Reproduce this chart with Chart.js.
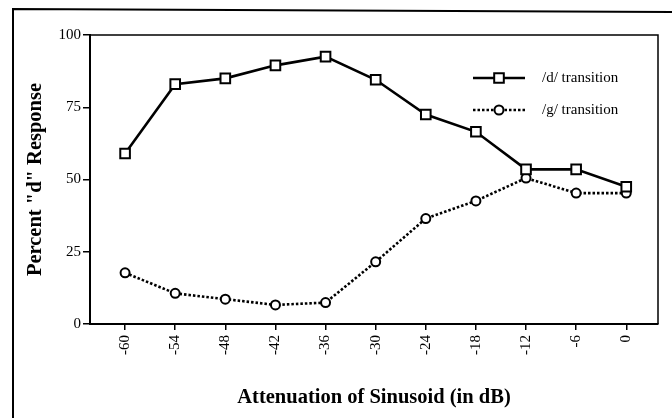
<!DOCTYPE html>
<html>
<head>
<meta charset="utf-8">
<script src="https://cdn.jsdelivr.net/npm/chart.js@4/dist/chart.umd.min.js"></script>
<style>
html,body{margin:0;padding:0;background:#fff;}
#wrap{width:672px;height:418px;position:relative;}
</style>
</head>
<body>
<div id="wrap"><canvas id="c" width="672" height="418"></canvas></div>
<script>
const attenuation = [-60, -54, -48, -42, -36, -30, -24, -18, -12, -6, 0];
const dTransition = [59, 83, 85, 89.5, 92.5, 84.5, 72.5, 66.5, 53.5, 53.5, 47.5];
const gTransition = [17.7, 10.6, 8.6, 6.6, 7.4, 21.5, 36.5, 42.6, 50.5, 45.3, 45.3];
const yTickValues = [0, 25, 50, 75, 100];
const seriesNames = ['/d/ transition', '/g/ transition'];
const xTitle = 'Attenuation of Sinusoid (in dB)';
const yTitle = 'Percent "d" Response';

const serif = "'Liberation Serif', 'Times New Roman', serif";

const frame = {
  id: 'frame',
  beforeDraw(chart) {
    const ctx = chart.ctx;
    ctx.save();
    ctx.fillStyle = '#fff';
    ctx.fillRect(0, 0, chart.width, chart.height);
    ctx.strokeStyle = '#000';
    ctx.lineWidth = 2;
    ctx.beginPath();
    ctx.moveTo(13, 418);
    ctx.lineTo(13, 9);
    ctx.lineTo(672, 12);
    ctx.stroke();
    ctx.restore();
  },
  afterDatasetsDraw(chart) {
    const a = chart.chartArea, ctx = chart.ctx;
    ctx.save();
    ctx.strokeStyle = '#000';
    ctx.lineWidth = 1.5;
    ctx.beginPath();
    ctx.moveTo(a.left, a.top);
    ctx.lineTo(a.right, a.top);
    ctx.lineTo(a.right, a.bottom);
    ctx.stroke();
    // legend
    const items = [
      {y: 78, ds: chart.data.datasets[0]},
      {y: 110, ds: chart.data.datasets[1]}
    ];
    items.forEach(it => {
      const ds = it.ds;
      ctx.strokeStyle = '#000';
      ctx.lineWidth = ds.borderWidth;
      ctx.setLineDash(ds.borderDash || []);
      ctx.beginPath();
      ctx.moveTo(473, it.y);
      ctx.lineTo(525, it.y);
      ctx.stroke();
      ctx.setLineDash([]);
      ctx.fillStyle = '#fff';
      ctx.strokeStyle = '#000';
      ctx.lineWidth = ds.pointBorderWidth;
      ctx.beginPath();
      if (ds.pointStyle === 'rect') {
        const s = Math.SQRT1_2 * ds.pointRadius;
        ctx.rect(499 - s, it.y - s, 2 * s, 2 * s);
      } else {
        ctx.arc(499, it.y, ds.pointRadius, 0, Math.PI * 2);
      }
      ctx.fill();
      ctx.stroke();
      ctx.fillStyle = '#000';
      ctx.font = "15px " + serif;
      ctx.textBaseline = 'middle';
      ctx.textAlign = 'left';
      ctx.fillText(ds.label, 542, it.y);
    });
    ctx.restore();
  }
};

new Chart(document.getElementById('c'), {
  type: 'line',
  data: {
    datasets: [
      {
        label: seriesNames[0],
        data: attenuation.map((x, i) => ({x: x, y: dTransition[i]})),
        borderColor: '#000',
        borderWidth: 2.6,
        pointStyle: 'rect',
        pointRadius: 6.8,
        pointBorderWidth: 2,
        pointBackgroundColor: '#fff',
        pointBorderColor: '#000',
        tension: 0
      },
      {
        label: seriesNames[1],
        data: attenuation.map((x, i) => ({x: x, y: gTransition[i]})),
        borderColor: '#000',
        borderWidth: 2.6,
        borderDash: [2.5, 2],
        pointStyle: 'circle',
        pointRadius: 4.5,
        pointBorderWidth: 2,
        pointBackgroundColor: '#fff',
        pointBorderColor: '#000',
        tension: 0
      }
    ]
  },
  options: {
    responsive: false,
    animation: false,
    events: [],
    layout: {padding: {top: 35, right: 14, left: 0, bottom: 0}},
    plugins: {legend: {display: false}, tooltip: {enabled: false}},
    scales: {
      x: {
        type: 'linear',
        min: -64.2,
        max: 3.8,
        afterBuildTicks(scale) { scale.ticks = attenuation.map(v => ({value: v})); },
        afterFit(scale) { scale.height = 94; },
        ticks: {
          minRotation: 90, maxRotation: 90,
          color: '#000', font: {family: serif, size: 15},
          padding: 5,
          callback: v => String(v)
        },
        grid: {drawOnChartArea: false, drawTicks: true, tickLength: 6, color: '#000', lineWidth: 1.5},
        border: {display: true, color: '#000', width: 2},
        title: {
          display: true, text: xTitle, color: '#000',
          font: {family: serif, size: 20.5, weight: 'bold'},
          padding: {top: 0, bottom: 8}
        }
      },
      y: {
        type: 'linear',
        min: 0,
        max: 100,
        afterBuildTicks(scale) { scale.ticks = yTickValues.map(v => ({value: v})); },
        afterFit(scale) { scale.width = 90; },
        ticks: {color: '#000', font: {family: serif, size: 15}, padding: 2},
        grid: {drawOnChartArea: false, drawTicks: true, tickLength: 7, color: '#000', lineWidth: 1.5},
        border: {display: true, color: '#000', width: 2},
        title: {
          display: true, text: yTitle, color: '#000',
          font: {family: serif, size: 20.5, weight: 'bold'},
          padding: {top: 23, bottom: 0}
        }
      }
    }
  },
  plugins: [frame]
});
</script>
</body>
</html>
